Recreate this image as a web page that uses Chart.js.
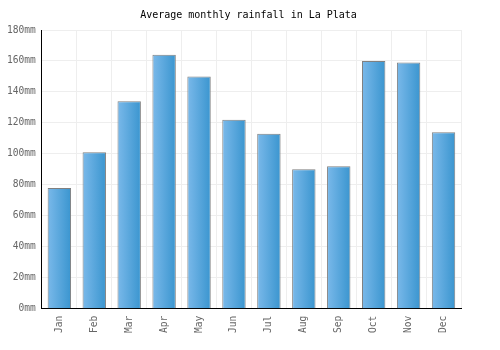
<!DOCTYPE html>
<html><head><meta charset="utf-8">
<script src="https://cdn.jsdelivr.net/npm/chart.js@4/dist/chart.umd.min.js"></script>
<style>html,body{margin:0;padding:0;background:#fff}#wrap{width:500px;height:350px}</style>
</head><body><div id="wrap"><canvas id="c" width="500" height="350"></canvas></div>
<script>
const months = ["Jan","Feb","Mar","Apr","May","Jun","Jul","Aug","Sep","Oct","Nov","Dec"];
const rainfall = [78, 101, 134, 164, 150, 122, 113, 90, 92, 160, 159, 114];
const yTicks = [0, 20, 40, 60, 80, 100, 120, 140, 160, 180];
const titleText = "Average monthly rainfall in La Plata";
const unit = "mm";

const BAR_PCT = 0.67;
function barGradient(ctx) {
  const chart = ctx.chart;
  const xs = chart.scales && chart.scales.x;
  if (!xs || ctx.dataIndex === undefined) return '#5aa9dd';
  const cx = xs.getPixelForValue(ctx.dataIndex);
  const hw = (xs.width / months.length) * BAR_PCT / 2;
  if (!isFinite(cx) || !isFinite(hw) || hw <= 0) return '#5aa9dd';
  const g = chart.ctx.createLinearGradient(cx - hw, 0, cx + hw, 0);
  g.addColorStop(0, '#7ab9ea');
  g.addColorStop(1, '#3a95cf');
  return g;
}

const mono = "'DejaVu Sans Mono', monospace";
const chart = new Chart(document.getElementById('c'), {
  type: 'bar',
  data: {
    labels: months,
    datasets: [{
      data: rainfall,
      backgroundColor: barGradient,
      borderColor: '#808080',
      borderWidth: 1,
      categoryPercentage: 1,
      barPercentage: BAR_PCT
    }]
  },
  options: {
    responsive: false,
    animation: false,
    devicePixelRatio: 1,
    layout: { padding: { left: 1, right: 4, top: 4, bottom: 10 } },
    plugins: {
      legend: { display: false },
      tooltip: { enabled: false },
      title: {
        display: true, text: titleText, color: '#000',
        font: { family: mono, size: 10, weight: 'normal' },
        padding: { top: 5, bottom: 9 }
      }
    },
    scales: {
      x: {
        grid: { color: '#eeeeee', offset: true, drawTicks: false },
        border: { color: '#000', width: 1 },
        ticks: { color: '#666', font: { family: mono, size: 9.6 }, maxRotation: 90, minRotation: 90, padding: 7 }
      },
      y: {
        min: 0, max: 180,
        afterBuildTicks: (axis) => { axis.ticks = yTicks.map(v => ({ value: v })); },
        grid: { color: '#eeeeee', drawTicks: false },
        border: { color: '#000', width: 1 },
        ticks: { color: '#666', font: { family: mono, size: 9.6 }, padding: 6, callback: v => v + unit }
      },
      yr: {
        position: 'right',
        display: true,
        grid: { display: false, drawTicks: false },
        border: { display: false },
        ticks: { display: false },
        afterFit: (axis) => { axis.width = 35; }
      }
    }
  }
});
chart.update();
</script></body></html>
